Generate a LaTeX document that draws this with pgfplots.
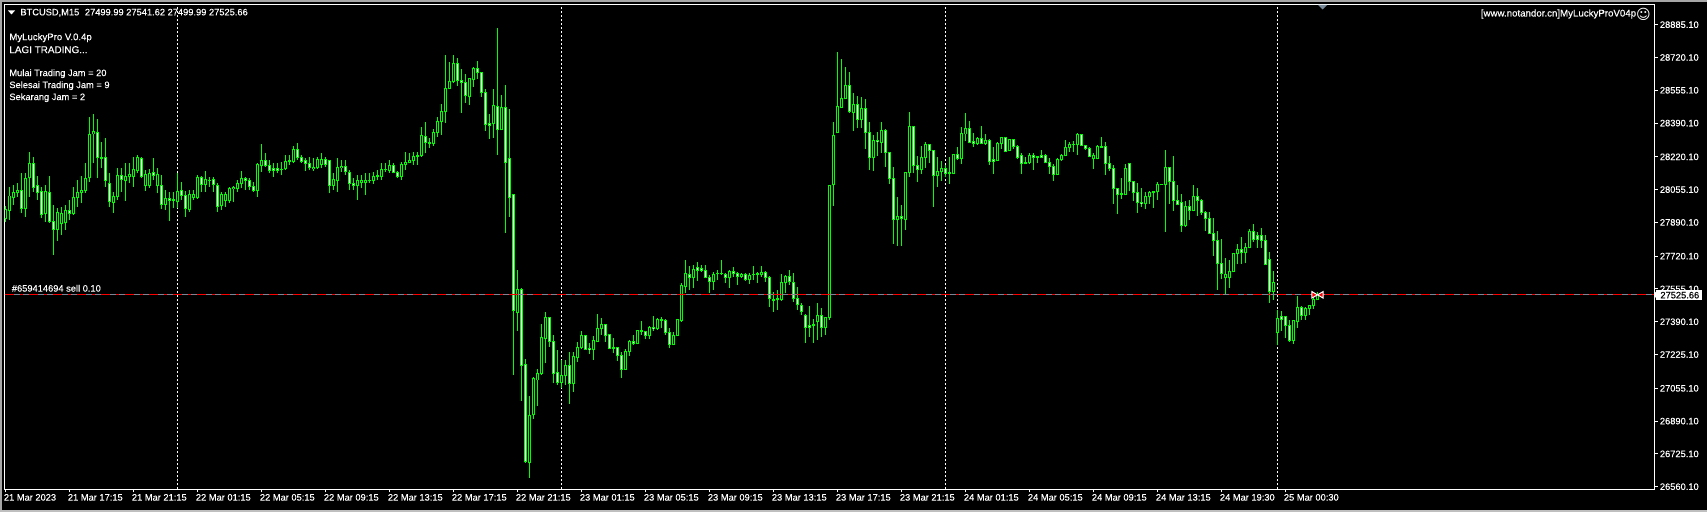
\documentclass[border=0pt]{standalone}
\usepackage{fontspec}
\usepackage{pgfplots}
\usepackage{pgfplotstable}
\pgfplotsset{compat=1.18}
\setmainfont{Liberation Sans}[FakeBold=0.25]
\newfontfamily\symfont{DejaVu Sans}
\newcommand\cf{\fontsize{4.65}{5.6}\selectfont}
\definecolor{slate}{HTML}{778899}
% 1 px of the screenshot = 0.5pt

\pgfplotstableread{
x o h l c
0 27910 27972 27893 27956
1 27952 28070 27902 28023
2 28016 28078 27977 28041
3 28039 28086 28019 28050
4 28050 28137 27935 27959
5 27959 28137 27919 28112
6 28115 28242 28019 28187
7 28187 28221 28045 28065
8 28075 28123 28003 28039
9 28045 28070 27910 27930
10 27935 28078 27893 28045
11 28041 28123 27888 27895
12 27895 27977 27726 27855
13 27855 27961 27798 27940
14 27885 27969 27826 27935
15 27888 27977 27851 27952
16 27950 28003 27902 27935
17 27934 28070 27927 28016
18 28016 28106 27969 28043
19 28039 28125 27986 28053
20 28051 28187 28039 28112
21 28115 28422 28095 28333
22 28335 28435 28187 28348
23 28343 28413 28112 28215
24 28217 28296 28162 28212
25 28217 28313 28070 28100
26 28086 28137 27966 27994
27 27991 28045 27939 28019
28 28019 28165 28003 28127
29 28125 28162 28045 28106
30 28103 28187 28000 28120
31 28120 28187 28086 28132
32 28120 28221 28070 28157
33 28150 28229 28137 28217
34 28212 28221 28112 28120
35 28078 28153 28050 28132
36 28078 28157 28061 28135
37 28142 28212 28103 28125
38 28075 28162 28036 28132
39 28076 28128 27956 27979
40 27981 28053 27952 28011
41 28009 28045 27899 28001
42 28003 28045 27961 28001
43 27994 28137 27961 28046
44 28050 28095 28003 28026
45 28026 28050 27919 27959
46 27957 28053 27944 28031
47 28016 28053 28003 28031
48 28013 28128 28007 28117
49 28117 28123 28045 28081
50 28080 28147 28045 28106
51 28103 28120 28070 28101
52 28106 28120 28045 28083
53 28078 28086 27944 27972
54 27974 28045 27952 28031
55 28000 28045 27969 28031
56 28000 28070 27989 28061
57 28060 28073 27994 28068
58 28060 28103 28045 28088
59 28085 28150 28061 28110
60 28112 28120 28053 28101
61 28101 28112 28053 28070
62 28071 28095 28045 28050
63 28050 28187 28019 28182
64 28175 28284 28145 28204
65 28204 28237 28170 28175
66 28175 28204 28137 28153
67 28162 28187 28120 28153
68 28162 28187 28137 28153
69 28158 28195 28128 28155
70 28160 28229 28153 28195
71 28199 28229 28179 28202
72 28195 28274 28187 28259
73 28257 28288 28204 28215
74 28215 28229 28187 28199
75 28202 28212 28150 28185
76 28187 28221 28153 28165
77 28160 28212 28150 28167
78 28164 28221 28157 28207
79 28182 28237 28162 28207
80 28209 28221 28170 28184
81 28200 28204 28036 28078
82 28076 28137 28053 28108
83 28100 28212 28045 28167
84 28165 28204 28145 28172
85 28172 28204 28128 28145
86 28143 28153 28053 28086
87 28086 28112 28053 28076
88 28076 28128 28003 28100
89 28090 28128 28061 28101
90 28090 28137 28028 28101
91 28100 28137 28090 28103
92 28100 28145 28083 28123
93 28123 28153 28103 28127
94 28120 28187 28103 28157
95 28155 28187 28145 28158
96 28153 28204 28140 28177
97 28177 28187 28137 28142
98 28142 28150 28112 28120
99 28120 28195 28103 28184
100 28182 28246 28153 28190
101 28190 28237 28187 28202
102 28200 28246 28179 28222
103 28221 28246 28179 28226
104 28226 28372 28221 28325
105 28323 28397 28237 28293
106 28293 28313 28263 28288
107 28288 28358 28274 28341
108 28343 28422 28321 28398
109 28397 28486 28330 28449
110 28447 28732 28392 28564
111 28564 28697 28561 28600
112 28598 28732 28590 28690
113 28690 28715 28576 28603
114 28605 28662 28442 28595
115 28595 28637 28492 28528
116 28523 28615 28481 28613
117 28610 28674 28573 28665
118 28665 28702 28611 28643
119 28645 28648 28523 28543
120 28544 28561 28351 28382
121 28388 28434 28311 28378
122 28387 28561 28315 28479
123 28474 28868 28229 28356
124 28356 28531 28355 28469
125 28469 28581 27838 28190
126 28212 28460 27919 28014
127 28032 28032 27122 27446
128 27436 27651 27345 27553
129 27553 27558 26993 27169
130 27176 27203 26681 26689
131 26681 27017 26604 26919
132 26921 27114 26902 27106
133 27097 27151 26968 27131
134 27129 27379 27122 27312
135 27308 27439 27181 27412
136 27412 27416 27265 27290
137 27292 27324 27080 27131
138 27136 27248 27072 27084
139 27084 27198 27055 27121
140 27119 27198 27072 27171
141 27171 27240 26976 27079
142 27079 27240 27038 27216
143 27209 27290 27189 27261
144 27260 27345 27251 27322
145 27322 27324 27248 27253
146 27258 27282 27228 27251
147 27250 27319 27198 27297
148 27293 27428 27290 27357
149 27355 27407 27324 27377
150 27377 27379 27290 27319
151 27327 27329 27251 27256
152 27261 27307 27231 27256
153 27261 27265 27193 27220
154 27221 27240 27109 27152
155 27152 27251 27147 27241
156 27240 27298 27218 27292
157 27292 27324 27273 27282
158 27280 27349 27277 27347
159 27347 27396 27324 27342
160 27342 27345 27302 27319
161 27319 27369 27302 27362
162 27362 27419 27345 27355
163 27355 27407 27349 27402
164 27397 27412 27357 27402
165 27397 27402 27324 27335
166 27335 27357 27256 27275
167 27275 27340 27273 27322
168 27320 27402 27319 27399
169 27396 27587 27391 27572
170 27570 27701 27537 27634
171 27629 27671 27550 27614
172 27612 27674 27558 27651
173 27664 27693 27597 27647
174 27659 27676 27642 27649
175 27649 27676 27609 27612
176 27612 27626 27537 27592
177 27592 27642 27550 27629
178 27631 27651 27600 27634
179 27631 27701 27626 27634
180 27629 27634 27584 27612
181 27612 27651 27560 27642
182 27642 27664 27617 27634
183 27632 27642 27575 27620
184 27619 27637 27609 27629
185 27629 27634 27597 27604
186 27604 27634 27580 27624
187 27626 27671 27600 27629
188 27629 27642 27584 27632
189 27626 27671 27617 27637
190 27637 27647 27592 27614
191 27614 27620 27463 27508
192 27498 27542 27441 27501
193 27501 27550 27449 27505
194 27503 27631 27496 27589
195 27587 27626 27533 27619
196 27619 27651 27575 27592
197 27589 27637 27491 27508
198 27508 27567 27449 27475
199 27473 27486 27424 27441
200 27423 27429 27282 27360
201 27372 27469 27315 27360
202 27370 27402 27282 27374
203 27391 27483 27298 27423
204 27423 27458 27312 27360
205 27360 27416 27325 27412
206 27413 28078 27399 28075
207 28080 28393 27974 28328
208 28341 28746 28341 28474
209 28470 28712 28467 28514
210 28512 28672 28511 28580
211 28580 28647 28440 28450
212 28442 28539 28350 28484
213 28484 28526 28363 28407
214 28407 28521 28363 28464
215 28464 28511 28259 28341
216 28343 28393 28153 28216
217 28216 28328 28148 28303
218 28303 28345 28224 28296
219 28294 28393 28239 28353
220 28355 28358 28169 28241
221 28242 28246 28083 28111
222 28111 28169 27781 27903
223 27903 28016 27771 27920
224 27920 27976 27771 27910
225 27907 28145 27851 28142
226 28140 28444 28118 28373
227 28373 28375 28137 28175
228 28177 28224 28093 28155
229 28155 28274 28133 28217
230 28216 28294 28164 28283
231 28283 28284 28187 28251
232 28252 28254 27967 28125
233 28125 28219 28068 28147
234 28145 28199 28098 28162
235 28162 28179 28120 28135
236 28142 28217 28083 28138
237 28138 28232 28133 28232
238 28232 28271 28204 28210
239 28210 28368 28184 28338
240 28335 28439 28299 28363
241 28363 28398 28288 28291
242 28298 28338 28269 28289
243 28289 28318 28279 28313
244 28313 28373 28284 28289
245 28289 28333 28279 28303
246 28303 28308 28179 28195
247 28207 28271 28133 28195
248 28204 28293 28199 28289
249 28288 28318 28262 28318
250 28318 28321 28246 28249
251 28251 28309 28247 28308
252 28308 28311 28262 28271
253 28273 28279 28209 28219
254 28227 28237 28133 28185
255 28185 28221 28184 28190
256 28190 28241 28184 28227
257 28227 28237 28153 28217
258 28219 28224 28187 28222
259 28227 28252 28212 28219
260 28227 28234 28187 28190
261 28192 28212 28135 28170
262 28172 28182 28098 28130
263 28130 28212 28128 28207
264 28205 28234 28200 28227
265 28226 28304 28224 28268
266 28266 28294 28246 28283
267 28281 28299 28244 28284
268 28281 28341 28229 28333
269 28333 28335 28274 28276
270 28278 28279 28254 28261
271 28262 28271 28217 28224
272 28210 28237 28158 28227
273 28210 28278 28207 28273
274 28269 28320 28266 28273
275 28273 28294 28128 28185
276 28185 28224 28148 28162
277 28162 28179 27982 28060
278 28061 28065 27932 28029
279 28036 28113 28008 28031
280 28029 28182 28028 28162
281 28187 28190 28046 28095
282 28096 28100 27996 28039
283 28041 28086 27937 27989
284 27991 28063 27969 27984
285 27984 28041 27957 28021
286 28019 28048 27982 28041
287 28043 28048 27962 28046
288 28044 28093 28002 28081
289 28080 28083 28080 28083
290 28080 28252 27841 28167
291 28164 28169 27982 28095
292 28096 28224 27947 27999
293 28001 28078 27976 27982
294 27991 28033 27841 27873
295 27873 27996 27867 27971
296 27971 28001 27902 27949
297 27949 28078 27945 28021
298 28021 28063 27924 27998
299 28002 28007 27929 27939
300 27940 27950 27846 27909
301 27910 27940 27833 27833
302 27835 27912 27721 27798
303 27800 27846 27550 27682
304 27684 27806 27603 27633
305 27612 27712 27526 27628
306 27612 27701 27561 27642
307 27642 27737 27640 27734
308 27736 27781 27680 27753
309 27753 27815 27680 27737
310 27737 27784 27684 27764
311 27763 27855 27759 27845
312 27845 27880 27794 27805
313 27823 27841 27763 27805
314 27823 27860 27763 27801
315 27801 27826 27675 27679
316 27705 27743 27486 27541
317 27541 27646 27500 27588
318 27335 27449 27273 27407
319 27419 27446 27345 27399
320 27419 27419 27307 27371
321 27372 27399 27290 27298
322 27298 27399 27278 27396
323 27392 27520 27360 27463
324 27463 27469 27399 27424
325 27424 27466 27399 27459
326 27456 27473 27424 27473
327 27471 27513 27456 27503
328 27499.99 27541.62 27499.99 27525.66
}\candles

\begin{document}
\begin{tikzpicture}
\path[use as bounding box] (0,0) rectangle (853.5pt,256pt);
\fill[black] (0,0) rectangle (853.5pt,256pt);
\fill[gray!70] (0,254.9pt) rectangle (853.5pt,256pt);
\fill[gray!70] (0,0) rectangle (1pt,256pt);
\fill[gray!50] (0,0) rectangle (853.5pt,0.8pt);

\begin{axis}[
  at={(2.25pt,11.25pt)}, anchor=south west,
  scale only axis, width=825pt, height=242.5pt,
  xmin=-0.25, xmax=412.25, ymin=26546, ymax=28986.8,
  axis line style={white, line width=0.5pt},
  tick style={white, line width=0.5pt},
  tick align=outside, major tick length=1.5pt,
  xtick pos=bottom, ytick pos=right,
  yticklabel pos=right,
  xtick={0,16,...,320},
  xticklabels={21 Mar 2023,21 Mar 17:15,21 Mar 21:15,22 Mar 01:15,22 Mar 05:15,22 Mar 09:15,22 Mar 13:15,22 Mar 17:15,22 Mar 21:15,23 Mar 01:15,23 Mar 05:15,23 Mar 09:15,23 Mar 13:15,23 Mar 17:15,23 Mar 21:15,24 Mar 01:15,24 Mar 05:15,24 Mar 09:15,24 Mar 13:15,24 Mar 19:30,25 Mar 00:30},
  ytick={26560.1,26725.1,26890.1,27055.1,27225.1,27390.1,27555.1,27720.1,27890.1,28055.1,28220.1,28390.1,28555.1,28720.1,28885.1},
  yticklabels={26560.10,26725.10,26890.10,27055.10,27225.10,27390.10,27555.10,27720.10,27890.10,28055.10,28220.10,28390.10,28555.10,28720.10,28885.10},
  tick label style={font=\cf, text=white, inner sep=0pt},
  xticklabel style={anchor=north west, xshift=-1pt, yshift=-0.6pt},
  yticklabel style={anchor=west, xshift=1pt},
  clip=true,
]
% period separators
\addplot[white, line width=0.5pt, dash pattern=on 1.25pt off 0.75pt] coordinates {(43,26546)(43,28986.8)};
\addplot[white, line width=0.5pt, dash pattern=on 1.25pt off 0.75pt] coordinates {(139,26546)(139,28986.8)};
\addplot[white, line width=0.5pt, dash pattern=on 1.25pt off 0.75pt] coordinates {(235,26546)(235,28986.8)};
\addplot[white, line width=0.5pt, dash pattern=on 1.25pt off 0.75pt] coordinates {(318,26546)(318,28986.8)};
% wicks
\addplot[green, line width=0.5pt, line cap=butt, quiver={u=0, v={\thisrow{h}-\thisrow{l}}}]
  table[x=x, y=l] {\candles};
% body outline
\addplot[green, line width=1.5pt, line cap=butt, quiver={u=0, v={abs(\thisrow{o}-\thisrow{c})+5}}]
  table[x=x, y expr={min(\thisrow{o},\thisrow{c})-2.5}] {\candles};
% down candles white inside
\addplot[white, line width=0.5pt, line cap=butt, quiver={u=0, v={max(\thisrow{o}-\thisrow{c}-5,0)}}]
  table[x=x, y expr={\thisrow{c}+2.5}] {\candles};
% up candles black inside
\addplot[black, line width=0.5pt, line cap=butt, quiver={u=0, v={max(\thisrow{c}-\thisrow{o}-5,0)}}]
  table[x=x, y expr={\thisrow{o}+2.5}] {\candles};
% order line
\addplot[slate, line width=0.5pt] coordinates {(-0.25,27525.66)(412.25,27525.66)};
\addplot[red, line width=0.5pt, dash pattern=on 4.5pt off 3pt on 1.5pt off 3pt] coordinates {(-0.25,27525.66)(412.25,27525.66)};
% order arrows
\addplot[only marks, mark=triangle*, mark size=1.9pt,
  mark options={xshift=-1.9pt, rotate=-90, fill=red, draw=white, line width=0.5pt}] coordinates {(328,27525.66)};
\addplot[only marks, mark=triangle*, mark size=1.9pt,
  mark options={xshift=1.9pt, rotate=90, fill=red, draw=white, line width=0.5pt}] coordinates {(328,27525.66)};
\end{axis}

\begin{scope}[shift={(0pt,256pt)}, x=0.5pt, y=-0.5pt,
  every node/.style={font=\cf, text=white, inner sep=0pt, anchor=west}]
\fill[white] (8,10.5) -- (15,10.5) -- (11.5,14.5) -- cycle;
\node at (20,12.7) {BTCUSD,M15\hspace{2.8pt}27499.99 27541.62 27499.99 27525.66};
\node[font=\fontsize{4.8}{5.6}\selectfont] at (9,37.7) {MyLuckyPro V.0.4p};
\node[font=\fontsize{4.95}{5.6}\selectfont] at (9,49.7) {LAGI TRADING...};
\node at (9,73.7) {Mulai Trading Jam = 20};
\node at (9,85.7) {Selesai Trading Jam = 9};
\node at (9,97.7) {Sekarang Jam = 2};
\node at (11.5,288.3) {\#659414694 sell 0.10};
\node[anchor=east, font=\fontsize{4.85}{5.6}\selectfont] at (1636.5,14) {[www.notandor.cn]MyLuckyProV04p};
\node[anchor=center] at (1643.5,14.2) {\symfont\fontsize{7}{8}\selectfont ☺};
\fill[slate] (1318,5) -- (1327,5) -- (1322.5,9.5) -- cycle;
% current price box
\fill[white] (1656,290) rectangle (1702,300);
\fill[white] (1654,293.5) -- (1656,291.5) -- (1656,298) -- (1654,296) -- cycle;
\node[text=black] at (1660,295.2) {27525.66};
\end{scope}
\end{tikzpicture}
\end{document}
